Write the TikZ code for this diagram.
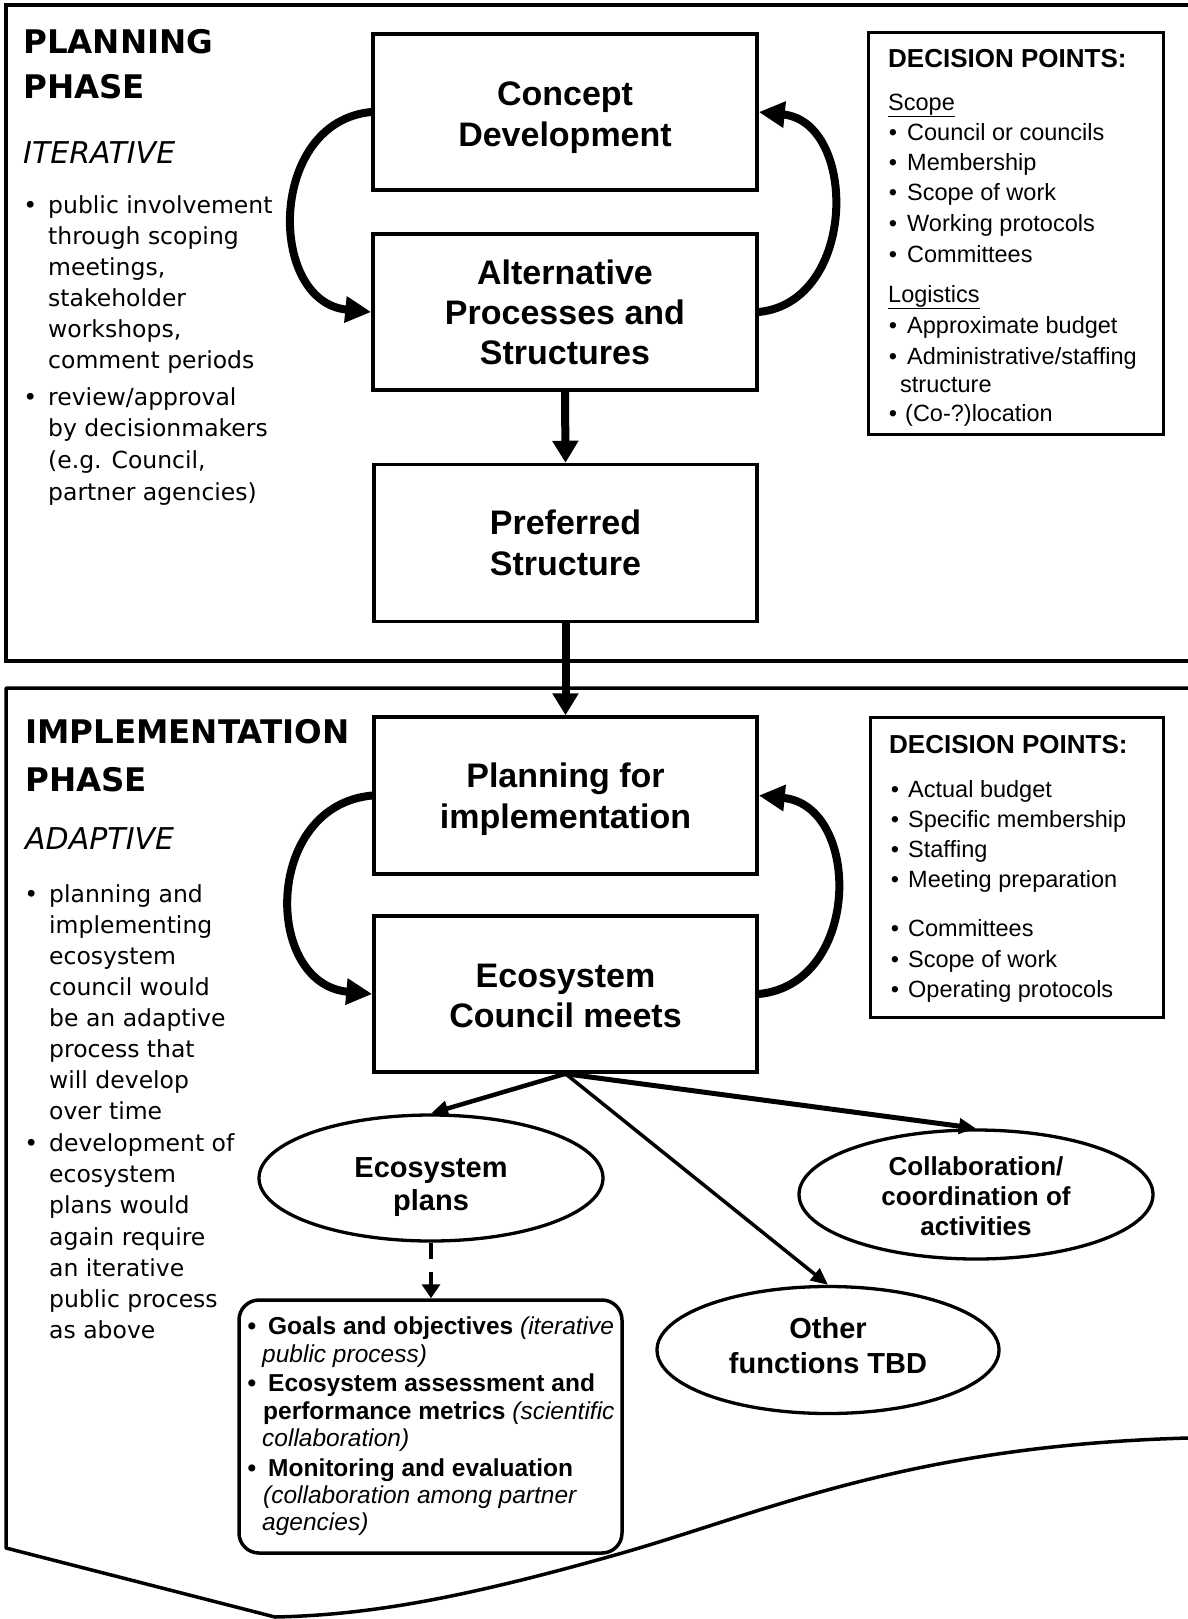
\documentclass[tikz,border=0pt]{standalone}
\usepackage{fontspec}
\setmainfont{Liberation Sans}
\newfontfamily\humfont{DejaVu Sans}
\usetikzlibrary{arrows.meta,shapes.geometric}

% font size in pt, leading equal to the size
\newcommand\fs[1]{\fontsize{#1pt}{#1pt}\selectfont}
% bullet hanging to the left of the text start
\newcommand\bul[1]{\makebox[0pt][r]{\textbullet\hspace{#1}}}
\newcommand\bbul[1]{\makebox[0pt][r]{\bfseries\textbullet\hspace{#1}}}

\begin{document}
\begin{tikzpicture}[x=1pt,y=-1pt,
  panel/.style={line width=3.5pt},
  procbox/.style={draw,line width=3.5pt,minimum width=383pt,inner sep=0pt},
  dpbox/.style={draw,line width=3pt,inner sep=0pt},
  oval/.style={draw,ellipse,line width=3.3pt,inner sep=0pt},
  sidetitle/.style={anchor=base west,inner sep=0pt,font=\humfont\bfseries\fs{32.5}},
  sidemode/.style={anchor=base west,inner sep=0pt,font=\humfont\itshape\fs{30}},
  sidetext/.style={anchor=base west,inner sep=0pt,font=\humfont\fs{23.5}},
  boxtext/.style={anchor=base,inner sep=0pt,font=\bfseries\fs{34}},
  ovaltext/.style={anchor=base,inner sep=0pt,font=\bfseries\fs{29}},
  ovalsmall/.style={anchor=base,inner sep=0pt,font=\bfseries\fs{26}},
  dphead/.style={anchor=base west,inner sep=0pt,font=\bfseries\fs{26}},
  dptext/.style={anchor=base west,inner sep=0pt,font=\fs{23.5}},
  rtext/.style={anchor=base west,inner sep=0pt,font=\fs{24.5}},
  mainarrow/.style={line width=8pt,-{Triangle[length=22pt,width=25pt]}},
  cyclearrow/.style={line width=8pt,-{Triangle[length=26pt,width=25pt]}},
  brancharrow/.style={-{Triangle[length=17pt,width=15pt]}},
  dasharrow/.style={line width=4.5pt,dash pattern=on 16pt off 13pt,-{Triangle[length=14pt,width=18pt]}}
]
\useasboundingbox (0,0) rectangle (1188,1619);
\fill[white] (0,0) rectangle (1188,1619);

% ---------- phase panels ----------
\draw[panel] (1188,5) -- (6,5) -- (6,661) -- (1188,661);
\draw[panel,line join=round] (1188,688) -- (6,688) -- (6,1548) -- (275,1617)
  .. controls (365,1615) and (455,1600) .. (608,1557)
  .. controls (760,1515) and (900,1446) .. (1188,1438);

% ---------- planning phase: side column ----------
\node[sidetitle] (pTitleA) at (23,53) {PLANNING};
\node[sidetitle] (pTitleB) at (23,98) {PHASE};
\node[sidemode] (pMode) at (23,163) {ITERATIVE};
\node[sidetext] (pT1) at (48,213) {\bul{11pt}public involvement};
\node[sidetext] (pT2) at (48,244) {through scoping};
\node[sidetext] (pT3) at (48,275) {meetings,};
\node[sidetext] (pT4) at (48,306) {stakeholder};
\node[sidetext] (pT5) at (48,337) {workshops,};
\node[sidetext] (pT6) at (48,368) {comment periods};
\node[sidetext] (pT7) at (48,405) {\bul{11pt}review/approval};
\node[sidetext] (pT8) at (48,436) {by decisionmakers};
\node[sidetext] (pT9) at (48,468) {(e.g. Council,};
\node[sidetext] (pT10) at (48,500) {partner agencies)};

% ---------- implementation phase: side column ----------
\node[sidetitle] (iTitleA) at (25,743) {IMPLEMENTATION};
\node[sidetitle] (iTitleB) at (25,791) {PHASE};
\node[sidemode] (iMode) at (25,849) {ADAPTIVE};
\node[sidetext] (iT1) at (49,902) {\bul{11pt}planning and};
\node[sidetext] (iT2) at (49,933) {implementing};
\node[sidetext] (iT3) at (49,964) {ecosystem};
\node[sidetext] (iT4) at (49,995) {council would};
\node[sidetext] (iT5) at (49,1026) {be an adaptive};
\node[sidetext] (iT6) at (49,1057) {process that};
\node[sidetext] (iT7) at (49,1088) {will develop};
\node[sidetext] (iT8) at (49,1119) {over time};
\node[sidetext] (iT9) at (49,1151) {\bul{11pt}development of};
\node[sidetext] (iT10) at (49,1182) {ecosystem};
\node[sidetext] (iT11) at (49,1213) {plans would};
\node[sidetext] (iT12) at (49,1245) {again require};
\node[sidetext] (iT13) at (49,1276) {an iterative};
\node[sidetext] (iT14) at (49,1307) {public process};
\node[sidetext] (iT15) at (49,1338) {as above};

% ---------- process boxes ----------
\node[procbox,minimum width=384pt,minimum height=156pt] (concept) at (565,112) {};
\node[boxtext] (conceptA) at (565,105) {Concept};
\node[boxtext] (conceptB) at (565,146) {Development};

\node[procbox,minimum width=384pt,minimum height=156pt] (alt) at (565,312) {};
\node[boxtext] (altA) at (565,284.5) {Alternative};
\node[boxtext] (altB) at (565,324) {Processes and};
\node[boxtext] (altC) at (565,364.5) {Structures};

\node[procbox,minimum height=157pt] (pref) at (565.5,543) {};
\node[boxtext] (prefA) at (565.5,534) {Preferred};
\node[boxtext] (prefB) at (565.5,575) {Structure};

\node[procbox,minimum height=157pt] (planimpl) at (565.5,795.5) {};
\node[boxtext] (planimplA) at (565.5,787) {Planning for};
\node[boxtext] (planimplB) at (565.5,828) {implementation};

\node[procbox,minimum height=156pt] (ecoc) at (565.5,994) {};
\node[boxtext] (ecocA) at (565.5,987) {Ecosystem};
\node[boxtext] (ecocB) at (565.5,1027) {Council meets};

% ---------- decision points: planning ----------
\node[dpbox,minimum width=295pt,minimum height=401pt] (dpPlan) at (1015.5,233.5) {};
\node[dphead] (dpPlanH) at (888,67) {DECISION POINTS:};
\node[dptext] (dpP1) at (888,110) {\underline{Scope}};
\node[dptext] (dpP2) at (907,140) {\bul{10pt}Council or councils};
\node[dptext] (dpP3) at (907,170) {\bul{10pt}Membership};
\node[dptext] (dpP4) at (907,200) {\bul{10pt}Scope of work};
\node[dptext] (dpP5) at (907,231) {\bul{10pt}Working protocols};
\node[dptext] (dpP6) at (907,262) {\bul{10pt}Committees};
\node[dptext] (dpP7) at (888,302) {\underline{Logistics}};
\node[dptext] (dpP8) at (907,333) {\bul{10pt}Approximate budget};
\node[dptext] (dpP9) at (907,364) {\bul{10pt}Administrative/staffing};
\node[dptext] (dpP10) at (900,392) {structure};
\node[dptext] (dpP11) at (905,421) {\bul{8pt}(Co-?)location};

% ---------- decision points: implementation ----------
\node[dpbox,minimum width=293pt,minimum height=300pt] (dpImpl) at (1016.5,867) {};
\node[dphead] (dpImplH) at (889,753) {DECISION POINTS:};
\node[dptext] (dpI1) at (908,797) {\bul{9pt}Actual budget};
\node[dptext] (dpI2) at (908,827) {\bul{9pt}Specific membership};
\node[dptext] (dpI3) at (908,857) {\bul{9pt}Staffing};
\node[dptext] (dpI4) at (908,887) {\bul{9pt}Meeting preparation};
\node[dptext] (dpI5) at (908,936) {\bul{9pt}Committees};
\node[dptext] (dpI6) at (908,967) {\bul{9pt}Scope of work};
\node[dptext] (dpI7) at (908,997) {\bul{9pt}Operating protocols};

% ---------- council functions ----------
\node[oval,minimum width=344pt,minimum height=126pt] (ecoplans) at (431,1178) {};
\node[ovaltext] (ecoplansA) at (431,1177) {Ecosystem};
\node[ovaltext] (ecoplansB) at (431,1210) {plans};

\node[oval,minimum width=354pt,minimum height=129pt] (collab) at (976,1194.5) {};
\node[ovalsmall] (collabA) at (976,1175) {Collaboration/};
\node[ovalsmall] (collabB) at (976,1205) {coordination of};
\node[ovalsmall] (collabC) at (976,1235) {activities};

\node[oval,minimum width=342pt,minimum height=127pt] (other) at (828,1350) {};
\node[ovaltext] (otherA) at (828,1338) {Other};
\node[ovaltext] (otherB) at (828,1373) {functions TBD};

% ---------- ecosystem plan contents ----------
\node[draw,line width=3.5pt,rounded corners=20pt,minimum width=383pt,minimum height=253pt,inner sep=0pt] (plansDetail) at (430.5,1426.5) {};
\node[rtext] (pd1) at (268,1334) {\bbul{12pt}\textbf{Goals and objectives} \textit{(iterative}};
\node[rtext] (pd2) at (262,1362) {\textit{public process)}};
\node[rtext] (pd3) at (268,1391) {\bbul{12pt}\textbf{Ecosystem assessment and}};
\node[rtext] (pd4) at (263,1419) {\textbf{performance metrics} \textit{(scientific}};
\node[rtext] (pd5) at (262,1446) {\textit{collaboration)}};
\node[rtext] (pd6) at (268,1476) {\bbul{12pt}\textbf{Monitoring and evaluation}};
\node[rtext] (pd7) at (263,1503) {\textit{(collaboration among partner}};
\node[rtext] (pd8) at (262,1530) {\textit{agencies)}};

% ---------- connectors ----------
\draw[cyclearrow] (concept.west) .. controls +(-104,10) and +(-104,-10) .. (alt.west);
\draw[cyclearrow] (alt.east) .. controls +(99,-10) and +(99,10) .. (concept.east);
\draw[mainarrow] (alt.south) -- (pref.north);
\draw[mainarrow] (pref.south) -- (planimpl.north);
\draw[cyclearrow] (planimpl.west) .. controls +(-109,10) and +(-109,-10) .. (ecoc.west);
\draw[cyclearrow] (ecoc.east) .. controls +(103,-10) and +(103,10) .. (planimpl.east);
\draw[brancharrow,line width=4.5pt] (ecoc.south) -- (ecoplans.north);
\draw[brancharrow,line width=3.5pt] (ecoc.south) -- (other.north);
\draw[brancharrow,line width=5pt] (ecoc.south) -- (collab.north);
\draw[dasharrow] (ecoplans.south) -- (ecoplans.south |- plansDetail.north);
\end{tikzpicture}
\end{document}
